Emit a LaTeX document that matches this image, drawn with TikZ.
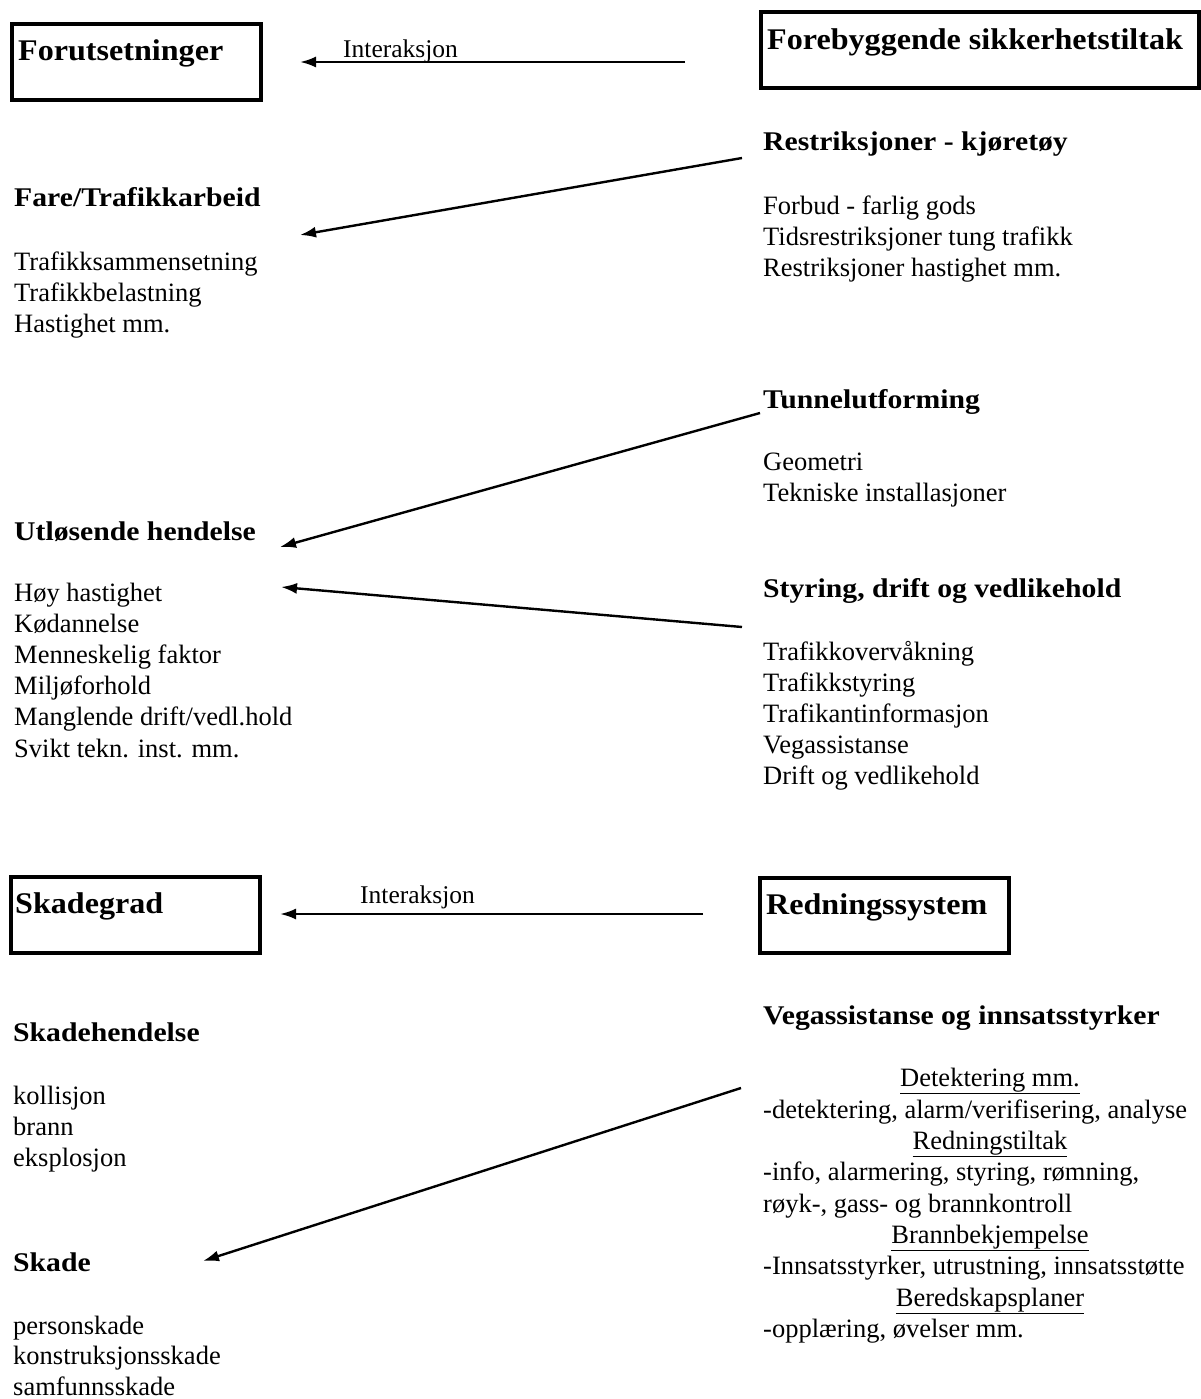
\documentclass[tikz,border=0pt]{standalone}
\usepackage{fontspec}
\setmainfont{Liberation Serif}
\newfontfamily\hdfont{Liberation Serif}[FakeStretch=1.1]
\newfontfamily\bxfont{Liberation Serif}[FakeStretch=1.07]
\usetikzlibrary{arrows.meta}
\tikzset{
  body/.style={font=\fontsize{26.5}{31}\selectfont, inner sep=0pt, anchor=base west},
  head/.style={font=\hdfont\bfseries\fontsize{27}{31}\selectfont, inner sep=0pt, anchor=base west},
  boxtitle/.style={font=\bxfont\bfseries\fontsize{30}{34}\selectfont, inner sep=0pt, anchor=base west},
  frame/.style={draw, line width=4pt, inner sep=0pt},
  subhead/.style={font=\fontsize{26.5}{31}\selectfont, inner sep=0pt, anchor=base},
  conn/.style={line width=2.4pt, -{Latex[length=16pt,width=11pt]}},
  ilabel/.style={font=\fontsize{25.5}{30}\selectfont, inner sep=0pt, anchor=base west}
}
\newcommand\txtlines[5]{%
  \foreach \t [count=\k from 0] in {#5} {
    \node[body] (#1\k) at (#2, #3+#4*\k) {\t};
  }%
}
\begin{document}
\begin{tikzpicture}[x=1pt,y=-1pt]
\useasboundingbox (0,0) rectangle (1201,1399);
% boxes
\node[frame, minimum width=249pt, minimum height=76pt] (boxA) at (136.5,62) {};
\node[boxtitle] (tA) at (18,61) {Forutsetninger};
\node[frame, minimum width=438pt, minimum height=76pt] (boxB) at (980,50) {};
\node[boxtitle] (tB) at (767,50) {Forebyggende sikkerhetstiltak};
\node[frame, minimum width=249pt, minimum height=76pt] (boxC) at (135.5,915) {};
\node[boxtitle] (tC) at (15,913) {Skadegrad};
\node[frame, minimum width=249pt, minimum height=75pt] (boxD) at (884.5,915.5) {};
\node[boxtitle] (tD) at (766,914) {Redningssystem};

% left column
\node[head] (hFare) at (14,207) {Fare/Trafikkarbeid};
\txtlines{fare}{14}{270}{31.2}{Trafikksammensetning,Trafikkbelastning,Hastighet mm.}
\node[head] (hUtl) at (14,540) {Utløsende hendelse};
\txtlines{utl}{14}{601}{31.2}{Høy hastighet,Kødannelse,Menneskelig faktor,Miljøforhold,Manglende drift/vedl.hold,Svikt tekn. inst. mm.}
\node[head] (hSkh) at (13,1041) {Skadehendelse};
\txtlines{skh}{13}{1104}{31.2}{kollisjon,brann,eksplosjon}
\node[head] (hSk) at (13,1271) {Skade};
\txtlines{sk}{13}{1334}{30.6}{personskade,konstruksjonsskade,samfunnsskade}

% right column
\node[head] (hRes) at (763,151) {Restriksjoner - kjøretøy};
\txtlines{res}{763}{214}{31.2}{Forbud - farlig gods,Tidsrestriksjoner tung trafikk,Restriksjoner hastighet mm.}
\node[head] (hTun) at (763,408) {Tunnelutforming};
\txtlines{tun}{763}{470}{31.2}{Geometri,Tekniske installasjoner}
\node[head] (hSty) at (763,597) {Styring, drift og vedlikehold};
\txtlines{sty}{763}{660}{31.2}{Trafikkovervåkning,Trafikkstyring,Trafikantinformasjon,Vegassistanse,Drift og vedlikehold}
\node[head] (hVeg) at (763,1024) {Vegassistanse og innsatsstyrker};
\node[subhead] (s1) at (990,1086) {\underline{Detektering mm.}};
\node[body] (r1) at (763,1118) {-detektering, alarm/verifisering, analyse};
\node[subhead] (s2) at (990,1149) {\underline{Redningstiltak}};
\node[body] (r2) at (763,1180) {-info, alarmering, styring, rømning,};
\node[body] (r3) at (763,1212) {røyk-, gass- og brannkontroll};
\node[subhead] (s3) at (990,1243) {\underline{Brannbekjempelse}};
\node[body] (r4) at (763,1274) {-Innsatsstyrker, utrustning, innsatsstøtte};
\node[subhead] (s4) at (990,1306) {\underline{Beredskapsplaner}};
\node[body] (r5) at (763,1337) {-opplæring, øvelser mm.};

% connector end points
\coordinate (i1s) at (685,62);   \coordinate (i1e) at (300,62);
\coordinate (a1s) at (742,158);  \coordinate (a1e) at (300,235);
\coordinate (a2s) at (760,413);  \coordinate (a2e) at (280,547);
\coordinate (a3s) at (742,627);  \coordinate (a3e) at (281,587);
\coordinate (i2s) at (703,914);  \coordinate (i2e) at (280,914);
\coordinate (a4s) at (741,1088); \coordinate (a4e) at (203,1261);

\draw[conn] (i1s) -- (i1e);
\node[ilabel] (lab1) at (343,58) {Interaksjon};
\draw[conn] (a1s) -- (a1e);
\draw[conn] (a2s) -- (a2e);
\draw[conn] (a3s) -- (a3e);
\draw[conn] (i2s) -- (i2e);
\node[ilabel] (lab2) at (360,903) {Interaksjon};
\draw[conn] (a4s) -- (a4e);
\end{tikzpicture}
\end{document}
